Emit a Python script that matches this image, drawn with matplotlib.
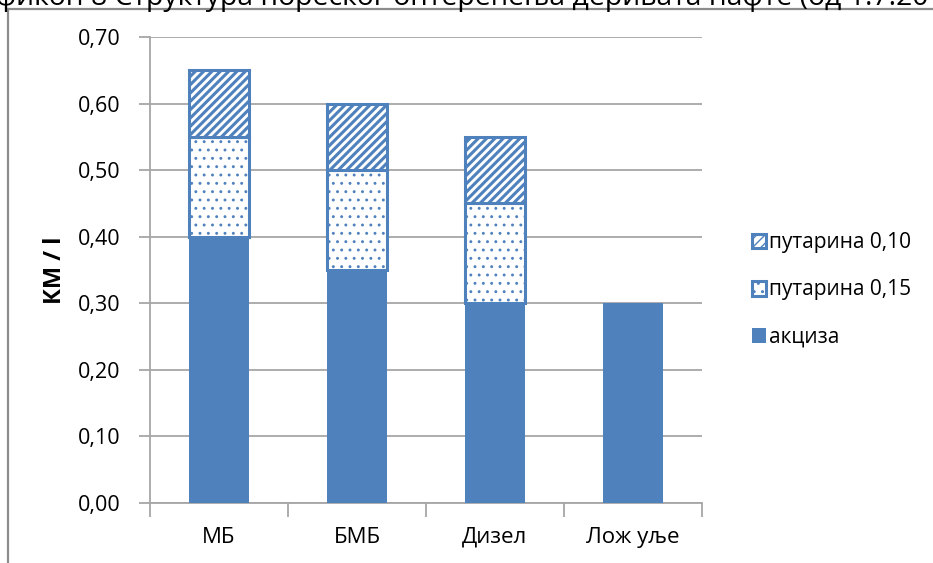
import matplotlib
matplotlib.use("Agg")
import matplotlib.pyplot as plt
from matplotlib.lines import Line2D
import numpy as np

plt.rcParams['font.family'] = ['Open Sans', 'DejaVu Sans']

categories = ['МБ', 'БМБ', 'Дизел', 'Лож уље']
akciza = [0.40, 0.35, 0.30, 0.30]
putarina_015 = [0.15, 0.15, 0.15, 0.00]
putarina_010 = [0.10, 0.10, 0.10, 0.00]
yticks = [0.0, 0.1, 0.2, 0.3, 0.4, 0.5, 0.6, 0.7]
ytick_labels = ['0,00', '0,10', '0,20', '0,30', '0,40', '0,50', '0,60', '0,70']
title = 'Графикон 8 Структура пореског оптерећења деривата нафте (од 1.7.2011. године)'

BLUE = '#4F81BD'
GRID = '#A6A6A6'
W, H = 933, 563

fig = plt.figure(figsize=(W / 100, H / 100), dpi=100)
ax = fig.add_axes([150 / W, 1 - 503 / H, (702 - 150) / W, (503 - 37) / H])

x = np.arange(len(categories))
bw = 0.43
plt.rcParams['hatch.color'] = BLUE

b1 = ax.bar(x, akciza, bw, color=BLUE, edgecolor=BLUE, linewidth=0, label='акциза', zorder=3)
mask = np.array(putarina_015) > 0
with plt.rc_context({'hatch.linewidth': 0.9, 'hatch.color': '#7BA3D6'}):
    b2 = ax.bar(x[mask], np.array(putarina_015)[mask], bw, bottom=np.array(akciza)[mask],
                facecolor='white', edgecolor=BLUE, linewidth=2.2, hatch='..',
                label='путарина 0,15', zorder=3)
with plt.rc_context({'hatch.linewidth': 2.2}):
    b3 = ax.bar(x[mask], np.array(putarina_010)[mask], bw,
                bottom=(np.array(akciza) + np.array(putarina_015))[mask],
                facecolor='white', edgecolor=BLUE, linewidth=2.2, hatch='////',
                label='путарина 0,10', zorder=3)

ax.set_xlim(-0.5, len(categories) - 0.5)
ax.set_ylim(0, 0.7)
ax.set_yticks(yticks)
ax.set_yticklabels(ytick_labels, fontsize=15.5)
ax.set_xticks(x)
ax.set_xticklabels(categories, fontsize=16)
ax.set_xticks(np.arange(-0.5, len(categories), 1.0), minor=True)
ax.tick_params(axis='x', which='major', length=0, pad=17)
ax.tick_params(axis='x', which='minor', length=10, width=1.3, color=GRID, direction='out')
ax.tick_params(axis='y', length=8, width=1.3, color=GRID, pad=13)
ax.yaxis.grid(True, color=GRID, linewidth=1.3, zorder=0)
ax.set_axisbelow(True)
for s in ['top', 'right']:
    ax.spines[s].set_visible(False)
for s in ['left', 'bottom']:
    ax.spines[s].set_color(GRID)
    ax.spines[s].set_linewidth(1.3)

ax.set_ylabel('КМ / l', fontsize=17, fontweight='bold', labelpad=8)

handles = [b3, b2, b1]
leg = fig.legend(handles, [h.get_label() for h in handles], loc='center left',
                 bbox_to_anchor=(733 / W, 1 - 290 / H), frameon=False, fontsize=15,
                 handlelength=0.7, handleheight=0.7, handletextpad=0.15, labelspacing=1.25)

# frame of the pasted chart
fig.add_artist(Line2D([8 / W, 8 / W], [0, 1 - 9 / H], color='#8C8C8C', linewidth=1.6))
fig.add_artist(Line2D([8 / W, 1], [1 - 9 / H, 1 - 9 / H], color='#8C8C8C', linewidth=1.6))

# cut-off caption above
fig.text(-52 / W, 1 - 5 / H, title, fontsize=20.4, va='baseline', ha='left')

fig.savefig('out.png', dpi=100)
